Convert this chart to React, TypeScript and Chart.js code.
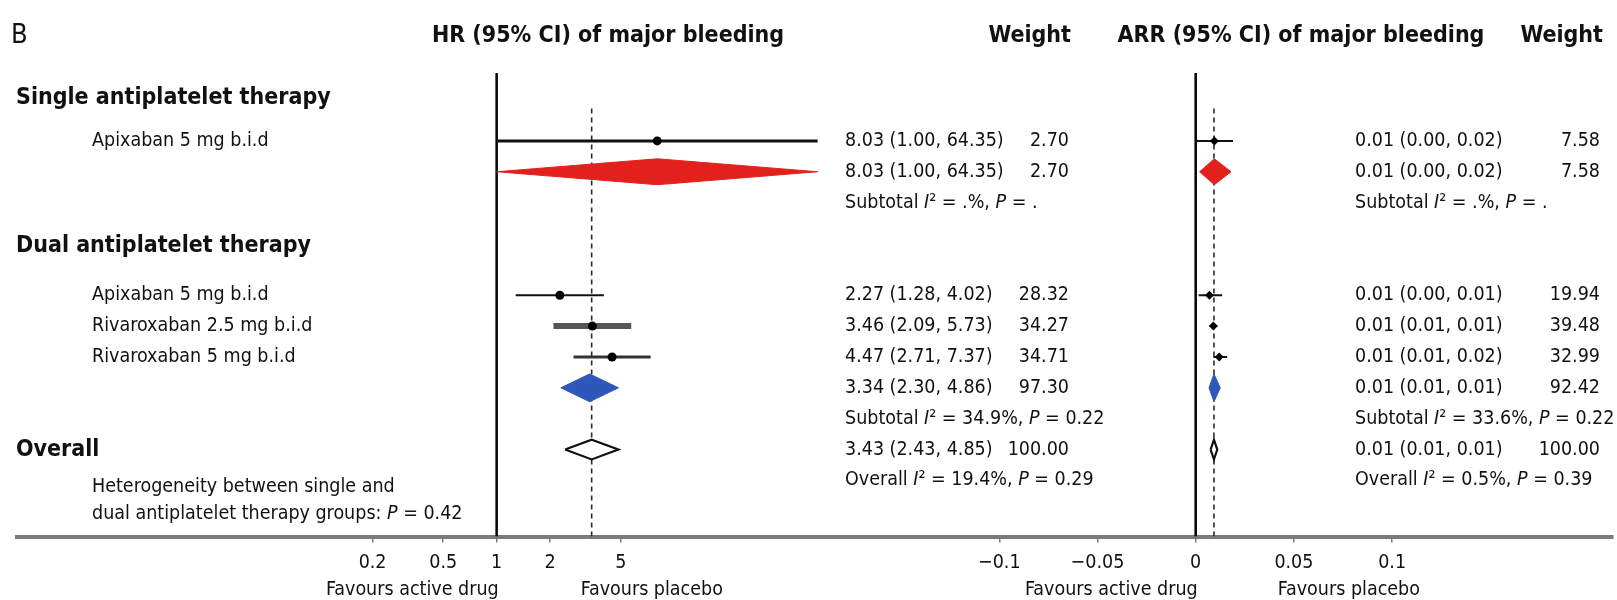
import React, { useEffect, useRef } from 'react';
import { Chart, registerables } from 'chart.js';

Chart.register(...registerables);

// ---------------- data ----------------
const STUDY_LABELS = ['Apixaban 5 mg b.i.d', 'Apixaban 5 mg b.i.d', 'Rivaroxaban 2.5 mg b.i.d', 'Rivaroxaban 5 mg b.i.d'];
const STUDY_ROWS = [0, 5, 6, 7];
const HR_EST = [8.03, 2.27, 3.46, 4.47];
const HR_LOW = [1.0, 1.28, 2.09, 2.71];
const HR_HIGH = [64.35, 4.02, 5.73, 7.37];
const HR_TEXT = ['8.03 (1.00, 64.35)', '2.27 (1.28, 4.02)', '3.46 (2.09, 5.73)', '4.47 (2.71, 7.37)'];
const HR_WEIGHT = ['2.70', '28.32', '34.27', '34.71'];
const ARR_EST = [0.0095, 0.007, 0.009, 0.012];
const ARR_LOW = [0.0, 0.0015, 0.007, 0.009];
const ARR_HIGH = [0.019, 0.0135, 0.011, 0.016];
const ARR_TEXT = ['0.01 (0.00, 0.02)', '0.01 (0.00, 0.01)', '0.01 (0.01, 0.01)', '0.01 (0.01, 0.02)'];
const ARR_WEIGHT = ['7.58', '19.94', '39.48', '32.99'];

const POOL_ROWS = [1, 8, 10];
const HR_POOL_EST = [8.03, 3.34, 3.43];
const HR_POOL_LOW = [1.0, 2.3, 2.43];
const HR_POOL_HIGH = [64.35, 4.86, 4.85];
const HR_POOL_TEXT = ['8.03 (1.00, 64.35)', '3.34 (2.30, 4.86)', '3.43 (2.43, 4.85)'];
const HR_POOL_WEIGHT = ['2.70', '97.30', '100.00'];
const ARR_POOL_EST = [0.0095, 0.0093, 0.0093];
const ARR_POOL_LOW = [0.002, 0.0068, 0.0076];
const ARR_POOL_HIGH = [0.018, 0.0125, 0.011];
const ARR_POOL_TEXT = ['0.01 (0.00, 0.02)', '0.01 (0.01, 0.01)', '0.01 (0.01, 0.01)'];
const ARR_POOL_WEIGHT = ['7.58', '92.42', '100.00'];

const GROUP_LABELS = ['Single antiplatelet therapy', 'Dual antiplatelet therapy', 'Overall'];
const GROUP_ROWS = [-1.4, 3.4, 10];
const STAT_ROWS = [2, 9, 11];
const HR_STATS = ['Subtotal I² = .%, P = .', 'Subtotal I² = 34.9%, P = 0.22', 'Overall I² = 19.4%, P = 0.29'];
const ARR_STATS = ['Subtotal I² = .%, P = .', 'Subtotal I² = 33.6%, P = 0.22', 'Overall I² = 0.5%, P = 0.39'];
const HET_NOTE = ['Heterogeneity between single and', 'dual antiplatelet therapy groups: P = 0.42'];
const HET_ROWS = [11.2, 12.1];

const HR_TICKS = [0.2, 0.5, 1, 2, 5];
const HR_TICK_LABELS = ['0.2', '0.5', '1', '2', '5'];
const ARR_TICKS = [-0.1, -0.05, 0, 0.05, 0.1];
const ARR_TICK_LABELS = ['\u22120.1', '\u22120.05', '0', '0.05', '0.1'];
const HR_NULL = 1;
const ARR_NULL = 0;
const HR_OVERALL = 3.43;
const ARR_OVERALL = 0.0093;
const PANEL_TITLES = ['HR (95% CI) of major bleeding', 'Weight', 'ARR (95% CI) of major bleeding', 'Weight'];
const FAVOURS = ['Favours active drug', 'Favours placebo'];
const PANEL_LETTER = 'B';

// ---------------- layout / style ----------------
const W = 1617;
const H = 600;
const FONT = '"DejaVu Sans Condensed", "DejaVu Sans", sans-serif';
const TEXT_COLOR = '#111111';
const Y_MIN = -4.24;
const Y_MAX = 12.82;
const HR_MIN = 0.001985;
const HR_MAX = 181.3;
const ARR_MIN = -0.1518;
const ARR_MAX = 0.2122;
const HR_PANEL = 883;
const ARR_PANEL = 717;
const TITLE_ROW = -3.4;
const SOLID_TOP_ROW = -2.2;
const DASH_TOP_ROW = -1.05;
const DIAMOND_HALF = [0.42, 0.45, 0.32];
const POOL_FILL = ['#e3211c', '#2f56b9', '#ffffff'];
const POOL_EDGE = ['#e3211c', '#2f56b9', '#111111'];
const CI_WIDTH = [3, 2, 6, 3];
const CI_COLOR = ['#111111', '#111111', '#555555', '#333333'];
const REG = 19.5;
const BOLD = 23;

function drawRich(ctx: CanvasRenderingContext2D, text: string, x: number, y: number, size: number, bold: boolean, align: 'left' | 'right' | 'center') {
  const parts = text.split(/(I(?=²)|P(?= =))/);
  const fontFor = (italic: boolean) => `${italic ? 'italic ' : ''}${bold ? 'bold ' : ''}condensed ${size}px ${FONT}`;
  const widths = parts.map((p, i) => {
    ctx.font = fontFor(i % 2 === 1);
    return ctx.measureText(p).width;
  });
  const total = widths.reduce((a, b) => a + b, 0);
  let cx = align === 'left' ? x : align === 'right' ? x - total : x - total / 2;
  ctx.textAlign = 'left';
  ctx.textBaseline = 'middle';
  ctx.fillStyle = TEXT_COLOR;
  parts.forEach((p, i) => {
    ctx.font = fontFor(i % 2 === 1);
    ctx.fillText(p, cx, y);
    cx += widths[i];
  });
}

const textPlugin = {
  id: 'forestText',
  afterDraw(chart: any) {
    const ctx: CanvasRenderingContext2D = chart.ctx;
    const ys = chart.scales.y;
    const xh = chart.scales.x;
    const xa = chart.scales.x2;
    const py = (r: number) => ys.getPixelForValue(r);
    ctx.save();
    drawRich(ctx, PANEL_LETTER, 11, py(TITLE_ROW), 27, false, 'left');
    drawRich(ctx, PANEL_TITLES[0], 608, py(TITLE_ROW), BOLD, true, 'center');
    drawRich(ctx, PANEL_TITLES[1], 1071, py(TITLE_ROW), BOLD, true, 'right');
    drawRich(ctx, PANEL_TITLES[2], 1301, py(TITLE_ROW), BOLD, true, 'center');
    drawRich(ctx, PANEL_TITLES[3], 1603, py(TITLE_ROW), BOLD, true, 'right');
    GROUP_LABELS.forEach((t, i) => drawRich(ctx, t, 16, py(GROUP_ROWS[i]), BOLD, true, 'left'));
    STUDY_LABELS.forEach((t, i) => drawRich(ctx, t, 92, py(STUDY_ROWS[i]), REG, false, 'left'));
    HET_NOTE.forEach((t, i) => drawRich(ctx, t, 92, py(HET_ROWS[i]), REG, false, 'left'));
    STUDY_ROWS.forEach((r, i) => {
      drawRich(ctx, HR_TEXT[i], 845, py(r), REG, false, 'left');
      drawRich(ctx, HR_WEIGHT[i], 1069, py(r), REG, false, 'right');
      drawRich(ctx, ARR_TEXT[i], 1355, py(r), REG, false, 'left');
      drawRich(ctx, ARR_WEIGHT[i], 1600, py(r), REG, false, 'right');
    });
    POOL_ROWS.forEach((r, i) => {
      drawRich(ctx, HR_POOL_TEXT[i], 845, py(r), REG, false, 'left');
      drawRich(ctx, HR_POOL_WEIGHT[i], 1069, py(r), REG, false, 'right');
      drawRich(ctx, ARR_POOL_TEXT[i], 1355, py(r), REG, false, 'left');
      drawRich(ctx, ARR_POOL_WEIGHT[i], 1600, py(r), REG, false, 'right');
    });
    STAT_ROWS.forEach((r, i) => {
      drawRich(ctx, HR_STATS[i], 845, py(r), REG, false, 'left');
      drawRich(ctx, ARR_STATS[i], 1355, py(r), REG, false, 'left');
    });
    const fy = chart.chartArea.bottom + 53;
    const h0 = xh.getPixelForValue(HR_NULL);
    const a0 = xa.getPixelForValue(ARR_NULL);
    drawRich(ctx, FAVOURS[0], h0 + 2, fy, REG, false, 'right');
    drawRich(ctx, FAVOURS[1], h0 + 84, fy, REG, false, 'left');
    drawRich(ctx, FAVOURS[0], a0 + 2, fy, REG, false, 'right');
    drawRich(ctx, FAVOURS[1], a0 + 82, fy, REG, false, 'left');
    ctx.restore();
  },
};

function buildDatasets() {
  const ds: any[] = [];
  const vline = (axis: string, x: number, top: number, dashed: boolean) => ({
    xAxisID: axis, yAxisID: 'y', showLine: true,
    data: [{ x, y: top }, { x, y: Y_MAX }],
    borderColor: dashed ? '#2a2a2a' : '#0a0a0a',
    borderWidth: dashed ? 1.6 : 2.6,
    borderDash: dashed ? [5, 4] : [],
    pointRadius: 0, order: 10,
  });
  ds.push(vline('x', HR_NULL, SOLID_TOP_ROW, false));
  ds.push(vline('x', HR_OVERALL, DASH_TOP_ROW, true));
  ds.push(vline('x2', ARR_NULL, SOLID_TOP_ROW, false));
  ds.push(vline('x2', ARR_OVERALL, DASH_TOP_ROW, true));

  STUDY_ROWS.forEach((r, i) => {
    ds.push({
      xAxisID: 'x', yAxisID: 'y', showLine: true,
      data: [{ x: HR_LOW[i], y: r }, { x: HR_HIGH[i], y: r }],
      borderColor: CI_COLOR[i], borderWidth: CI_WIDTH[i], pointRadius: 0, order: 5,
    });
    ds.push({
      xAxisID: 'x2', yAxisID: 'y', showLine: true,
      data: [{ x: ARR_LOW[i], y: r }, { x: ARR_HIGH[i], y: r }],
      borderColor: '#111111', borderWidth: 2, pointRadius: 0, order: 5,
    });
  });

  const diamond = (axis: string, lo: number, est: number, hi: number, r: number, j: number) => ({
    xAxisID: axis, yAxisID: 'y', showLine: true,
    data: [
      { x: lo, y: r }, { x: est, y: r - DIAMOND_HALF[j] }, { x: hi, y: r },
      { x: est, y: r + DIAMOND_HALF[j] }, { x: lo, y: r },
    ],
    fill: 'shape', backgroundColor: POOL_FILL[j], borderColor: POOL_EDGE[j],
    borderWidth: j === 2 ? 2.2 : 1, tension: 0, pointRadius: 0, order: 3,
  });
  POOL_ROWS.forEach((r, j) => {
    ds.push(diamond('x', HR_POOL_LOW[j], HR_POOL_EST[j], HR_POOL_HIGH[j], r, j));
    ds.push(diamond('x2', ARR_POOL_LOW[j], ARR_POOL_EST[j], ARR_POOL_HIGH[j], r, j));
  });

  ds.push({
    xAxisID: 'x', yAxisID: 'y', showLine: false,
    data: STUDY_ROWS.map((r, i) => ({ x: HR_EST[i], y: r })),
    pointStyle: 'circle', pointRadius: 4.5, pointBackgroundColor: '#000', pointBorderWidth: 0, order: 1,
  });
  ds.push({
    xAxisID: 'x2', yAxisID: 'y', showLine: false,
    data: STUDY_ROWS.map((r, i) => ({ x: ARR_EST[i], y: r })),
    pointStyle: 'rectRot', pointRadius: 4.5, pointBackgroundColor: '#000', pointBorderWidth: 0, order: 1,
  });
  return ds;
}

const axisCommon = {
  position: 'bottom',
  stack: 'panels',
  grid: { drawOnChartArea: false, drawTicks: true, tickLength: 6, color: '#7a7a7a', lineWidth: 1.5 },
  border: { display: true, color: '#7a7a7a', width: 4 },
};

export default function App() {
  const ref = useRef<HTMLCanvasElement>(null);
  useEffect(() => {
    if (!ref.current) return;
    const chart = new Chart(ref.current, {
      type: 'scatter',
      data: { datasets: buildDatasets() },
      options: {
        animation: false,
        responsive: false,
        devicePixelRatio: 1,
        layout: { padding: { left: 17, right: 0, top: 10, bottom: 16 } },
        plugins: { legend: { display: false }, tooltip: { enabled: false } },
        scales: {
          x: {
            ...axisCommon,
            type: 'logarithmic',
            stackWeight: HR_PANEL,
            min: HR_MIN,
            max: HR_MAX,
            afterBuildTicks: (s: any) => { s.ticks = HR_TICKS.map((v) => ({ value: v })); },
            ticks: {
              autoSkip: false, maxRotation: 0, padding: 9, color: TEXT_COLOR,
              font: { family: FONT, size: REG },
              callback: (v: any) => { const k = HR_TICKS.indexOf(Number(v)); return k >= 0 ? HR_TICK_LABELS[k] : ''; },
            },
          },
          x2: {
            ...axisCommon,
            type: 'linear',
            stackWeight: ARR_PANEL,
            min: ARR_MIN,
            max: ARR_MAX,
            afterBuildTicks: (s: any) => { s.ticks = ARR_TICKS.map((v) => ({ value: v })); },
            ticks: {
              autoSkip: false, maxRotation: 0, padding: 9, color: TEXT_COLOR,
              font: { family: FONT, size: REG },
              callback: (v: any) => { const k = ARR_TICKS.indexOf(Number(v)); return k >= 0 ? ARR_TICK_LABELS[k] : ''; },
            },
          },
          y: {
            type: 'linear',
            display: false,
            reverse: true,
            min: Y_MIN,
            max: Y_MAX,
          },
        },
      } as any,
      plugins: [textPlugin],
    });
    return () => chart.destroy();
  }, []);
  return (
    <div style={{ position: 'absolute', left: 0, top: 0, width: W, height: H, background: '#fff' }}>
      <canvas ref={ref} width={W} height={H} style={{ display: 'block', width: W, height: H }} />
    </div>
  );
}
